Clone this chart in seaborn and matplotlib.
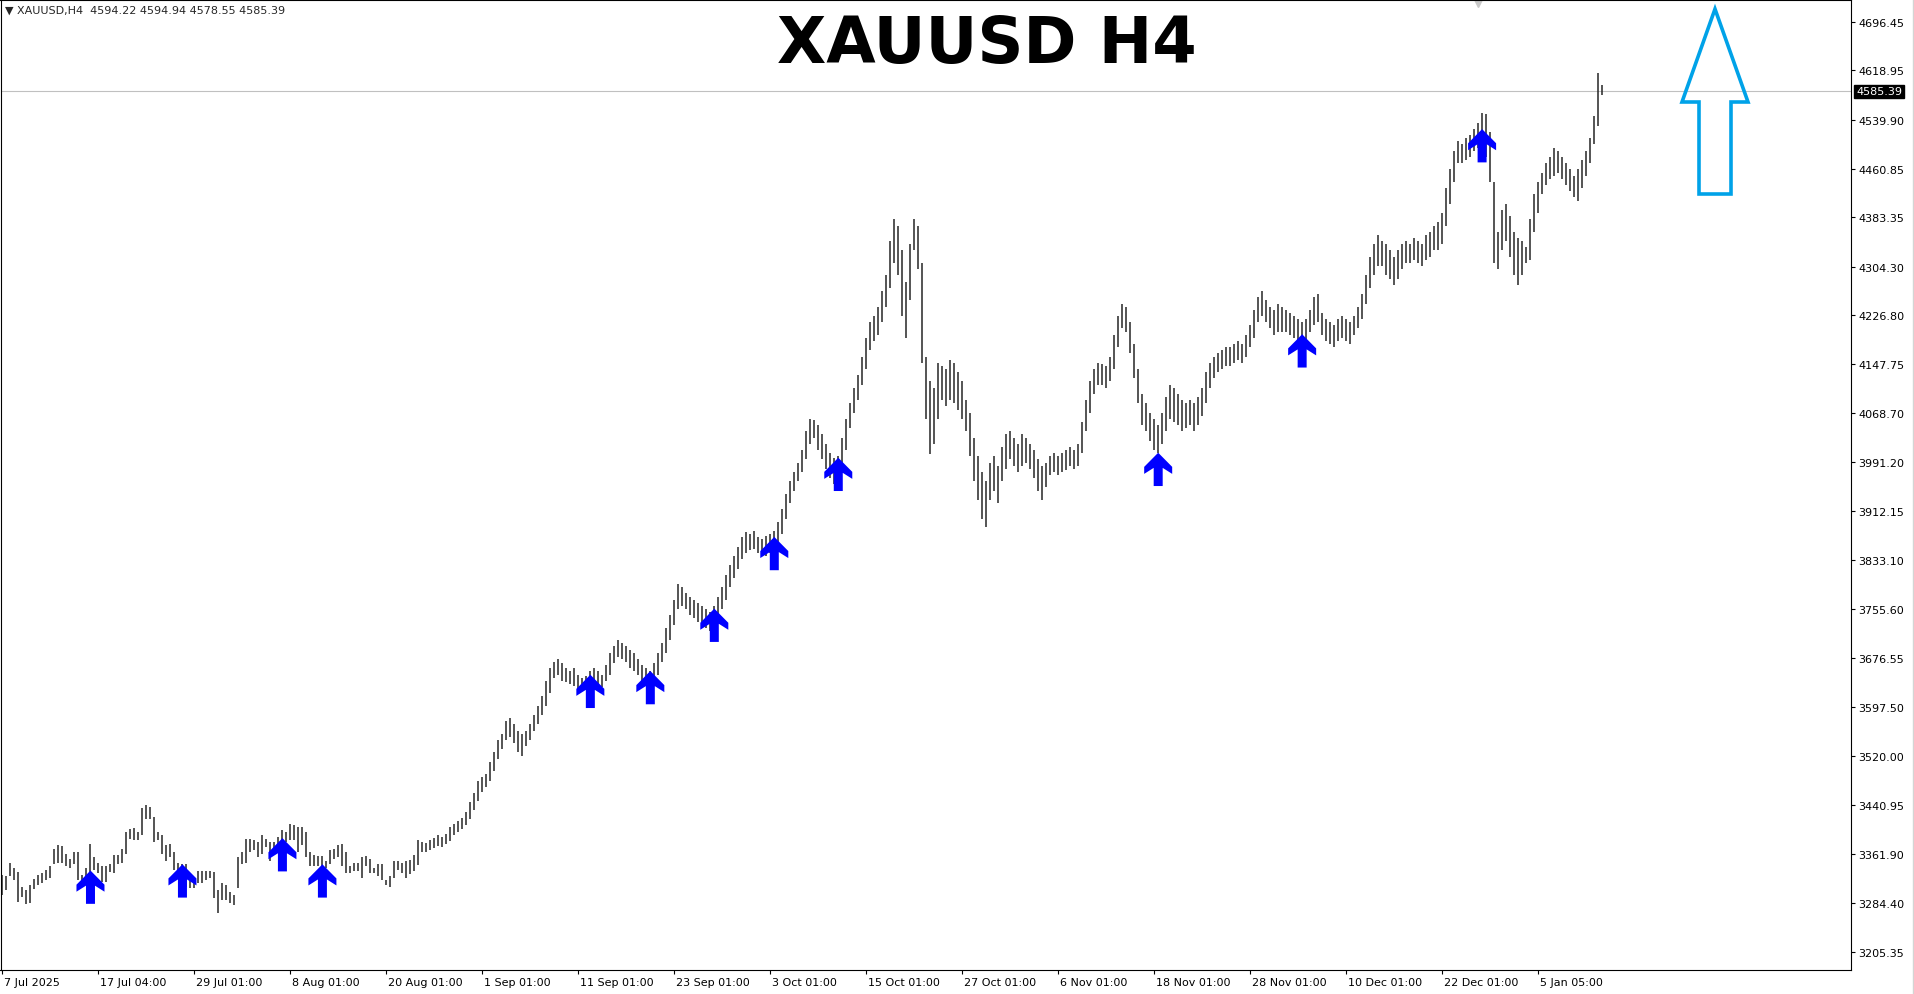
"""
XAUUSD H4 bar chart with buy-signal arrows, styled like an MT4 screenshot.
Bars are stored as 8-hour high/low pairs read off the reference picture.
"""
import matplotlib

matplotlib.use("Agg")
import matplotlib.pyplot as plt
import matplotlib.transforms as mtransforms
from matplotlib.lines import Line2D
from matplotlib.patches import Polygon
from matplotlib.path import Path
import numpy as np
import pandas as pd
import seaborn as sns

# ---- Data ------------------------------------------------------------------ #
symbol = "XAUUSD"
timeframe = "H4"
last_ohlc = [4594.22, 4594.94, 4578.55, 4585.39]

bar_high = [
    3328, 3327, 3347, 3340, 3333, 3309, 3304, 3313, 3322, 3329,
    3331, 3336, 3343, 3370, 3376, 3375, 3362, 3354, 3365, 3366,
    3329, 3340, 3378, 3357, 3348, 3343, 3343, 3346, 3360, 3360,
    3370, 3397, 3403, 3404,
    3397, 3436, 3441, 3438, 3422, 3397, 3392, 3376, 3378, 3365,
    3348, 3346, 3346, 3332, 3324, 3335, 3335, 3335, 3335, 3333,
    3305, 3316, 3313, 3302, 3297, 3357, 3365, 3387, 3387, 3384,
    3381, 3392, 3387, 3381,
    3381, 3389, 3400, 3397, 3411, 3408, 3406, 3406, 3397, 3365,
    3360, 3359, 3359, 3351, 3368, 3370, 3376, 3378, 3365, 3343,
    3348, 3348, 3357, 3359, 3354, 3340, 3346, 3346, 3321, 3327,
    3351, 3351, 3348, 3351,
    3352, 3360, 3385, 3382, 3380, 3385, 3388, 3392, 3390, 3395,
    3405, 3410, 3415, 3420, 3430, 3445, 3460, 3480, 3485, 3490,
    3510, 3525, 3545, 3555, 3575, 3580, 3570, 3560, 3555, 3560,
    3570, 3585, 3600, 3615, 3640, 3660, 3670, 3675, 3668, 3660,
    3655, 3660, 3650, 3645, 3648, 3655, 3660, 3655, 3650, 3665,
    3685, 3695, 3705, 3700, 3695, 3690, 3685, 3675, 3665, 3660,
    3655, 3668, 3685, 3700, 3725, 3745, 3770, 3795, 3790, 3780,
    3775, 3770, 3765, 3760, 3755, 3750, 3760, 3775, 3790, 3810,
    3825, 3840, 3855, 3870, 3878, 3875, 3880, 3870, 3868, 3872,
    3875, 3880, 3895, 3915, 3940, 3960, 3975, 3990, 4010, 4040,
    4060, 4058, 4050, 4035, 4020, 4005, 3998, 4000, 4030, 4060,
    4085, 4110, 4130, 4160, 4190, 4215, 4225, 4240, 4265, 4290,
    4345, 4381, 4370, 4330, 4280, 4340, 4381, 4370, 4310, 4160,
    4120, 4110, 4150, 4145, 4140, 4155, 4150, 4135, 4120, 4090,
    4070, 4030, 4000, 3975, 3960, 3990, 4000, 3985, 4015, 4035,
    4040, 4030, 4020, 4035, 4030, 4020, 4010, 3995, 3985, 3990,
    4000, 4005, 4000, 4005, 4010, 4015, 4010, 4020, 4055, 4090,
    4120, 4140, 4150, 4148, 4145, 4160, 4195, 4225, 4245, 4240,
    4215, 4180, 4140, 4100, 4085, 4070, 4060, 4050, 4070, 4095,
    4115, 4110, 4100, 4090, 4085, 4090, 4085, 4095, 4110, 4135,
    4150, 4160, 4165, 4170, 4175, 4175, 4180, 4185, 4180, 4195,
    4210, 4235, 4255, 4265, 4250, 4240, 4235, 4245, 4240, 4235,
    4230, 4225, 4220, 4215, 4220, 4235, 4255, 4260, 4230, 4220,
    4215, 4210, 4220, 4225, 4220, 4215, 4225, 4240, 4260, 4290,
    4320, 4340, 4355, 4345, 4340, 4330, 4320, 4330, 4340, 4345,
    4340, 4350, 4345, 4340, 4355, 4360, 4370, 4375, 4390, 4430,
    4460, 4490, 4505, 4500, 4510, 4515, 4525, 4535, 4550, 4549,
    4520, 4440, 4360, 4395, 4405, 4385, 4360, 4350, 4345, 4335,
    4380, 4420, 4440, 4455, 4470, 4480, 4495, 4490, 4480, 4470,
    4460, 4450, 4460, 4475, 4490, 4510, 4545, 4615, 4595,
]
bar_low = [
    3297, 3305, 3327, 3321, 3286, 3294, 3282, 3283, 3306, 3313,
    3316, 3321, 3324, 3346, 3348, 3348, 3343, 3340, 3346, 3321,
    3318, 3321, 3333, 3337, 3332, 3318, 3317, 3333, 3332, 3346,
    3348, 3362, 3387, 3385,
    3384, 3392, 3419, 3419, 3381, 3384, 3362, 3351, 3357, 3337,
    3335, 3321, 3310, 3308, 3308, 3316, 3316, 3321, 3324, 3291,
    3267, 3288, 3288, 3283, 3280, 3308, 3346, 3348, 3365, 3368,
    3357, 3362, 3373, 3351,
    3362, 3368, 3376, 3381, 3384, 3384, 3365, 3376, 3357, 3343,
    3343, 3343, 3343, 3340, 3346, 3354, 3357, 3343, 3332, 3332,
    3335, 3335, 3324, 3343, 3332, 3332, 3327, 3321, 3313, 3310,
    3324, 3337, 3332, 3324,
    3330, 3335, 3345, 3365, 3365, 3368, 3372, 3375, 3374, 3378,
    3383, 3392, 3398, 3402, 3408, 3418, 3432, 3448, 3462, 3470,
    3480, 3495, 3515, 3530, 3545, 3550, 3540, 3525, 3520, 3535,
    3545, 3560, 3570, 3585, 3600, 3620, 3645, 3650, 3640, 3638,
    3635, 3632, 3625, 3625, 3630, 3630, 3638, 3630, 3630, 3640,
    3650, 3668, 3678, 3675, 3670, 3660, 3655, 3650, 3640, 3635,
    3632, 3640, 3650, 3670, 3685, 3705, 3730, 3755, 3760, 3755,
    3745, 3740, 3735, 3730, 3725, 3720, 3728, 3740, 3755, 3770,
    3790, 3805, 3820, 3835, 3845, 3850, 3852, 3845, 3842, 3840,
    3845, 3848, 3860, 3875, 3900, 3925, 3945, 3960, 3975, 3995,
    4020, 4030, 4010, 3995, 3980, 3965, 3955, 3960, 3975, 4010,
    4045, 4070, 4090, 4115, 4140, 4170, 4185, 4195, 4215, 4240,
    4270, 4310, 4290, 4225, 4190, 4250, 4330, 4300, 4150, 4060,
    4004, 4020, 4060, 4090, 4080, 4090, 4085, 4075, 4060, 4040,
    4000, 3960, 3930, 3900, 3886, 3930, 3945, 3925, 3960, 3980,
    3995, 3985, 3975, 3985, 3990, 3980, 3965, 3945, 3930, 3950,
    3970, 3975, 3970, 3975, 3978, 3985, 3980, 3985, 4005, 4040,
    4070, 4100, 4115, 4115, 4110, 4120, 4140, 4175, 4205, 4200,
    4165, 4125, 4085, 4050, 4040, 4025, 4010, 4005, 4020, 4040,
    4060, 4055, 4050, 4040, 4045, 4050, 4040, 4050, 4065, 4085,
    4110, 4125, 4135, 4140, 4145, 4145, 4150, 4155, 4150, 4160,
    4175, 4190, 4215, 4225, 4215, 4205, 4195, 4200, 4200, 4200,
    4195, 4190, 4185, 4180, 4185, 4200, 4210, 4215, 4195, 4185,
    4180, 4175, 4185, 4190, 4185, 4180, 4195, 4205, 4220, 4245,
    4270, 4290, 4305, 4305, 4290, 4285, 4275, 4285, 4300, 4310,
    4310, 4315, 4310, 4305, 4315, 4320, 4330, 4330, 4340, 4370,
    4405, 4440, 4470, 4470, 4475, 4480, 4490, 4495, 4500, 4480,
    4440, 4310, 4300, 4330, 4345, 4320, 4290, 4275, 4290, 4310,
    4315, 4360, 4390, 4420, 4435, 4445, 4450, 4455, 4445, 4435,
    4425, 4415, 4410, 4430, 4450, 4470, 4500, 4530, 4579,
]

# buy signals: bar position and price level of the arrow centre
signal_bars = [22, 45, 70, 80, 147, 162, 178, 193, 209, 289, 325, 370]
signal_prices = [3309, 3319, 3361, 3319, 3623, 3629, 3729, 3844, 3971,
                 3979, 4169, 4498]

# time axis labels and the bar position they sit at
date_labels = [
    "7 Jul 2025", "17 Jul 04:00", "29 Jul 01:00", "8 Aug 01:00",
    "20 Aug 01:00", "1 Sep 01:00", "11 Sep 01:00", "23 Sep 01:00",
    "3 Oct 01:00", "15 Oct 01:00", "27 Oct 01:00", "6 Nov 01:00",
    "18 Nov 01:00", "28 Nov 01:00", "10 Dec 01:00", "22 Dec 01:00",
    "5 Jan 05:00",
]
date_bars = [0, 24, 48, 72, 96, 120, 144, 168, 192, 216, 240, 264,
             288, 312, 336, 360, 384]

price_ticks = [
    4696.45, 4618.95, 4539.90, 4460.85, 4383.35, 4304.30, 4226.80,
    4147.75, 4068.70, 3991.20, 3912.15, 3833.10, 3755.60, 3676.55,
    3597.50, 3520.00, 3440.95, 3361.90, 3284.40, 3205.35,
]

# ---- Style ----------------------------------------------------------------- #
sns.set_style("white")
plt.rcParams["font.family"] = ["DejaVu Sans"]

W, H = 1915, 995
fig = plt.figure(figsize=(W / 100, H / 100), dpi=100)
fig.patch.set_facecolor("white")
ax = fig.add_axes([0.5 / W, (H - 971) / H, 1850.5 / W, 970.5 / H])
ax.set_facecolor("white")

bars = pd.DataFrame({"pos": np.arange(len(bar_high)), "high": bar_high, "low": bar_low})
ax.vlines(bars["pos"], bars["low"], bars["high"], colors="#262626",
          linewidth=1.1, zorder=2)

# last price line
ax.axhline(last_ohlc[3], color="#C0C0C0", linewidth=0.8, zorder=1)

# signal arrows (thick up-arrow glyph)
arrow_path = Path(
    [(0, 16.65), (14.0, 2.5), (14.0, -4.5), (4.5, 1.5), (4.5, -16.65),
     (-4.5, -16.65), (-4.5, 1.5), (-14.0, -4.5), (-14.0, 2.5), (0, 16.65)],
    closed=True,
)
signals = pd.DataFrame({"bar": signal_bars, "price": signal_prices})
sns.scatterplot(data=signals, x="bar", y="price", marker=arrow_path, s=575,
                color="#0000FF", edgecolor="none", linewidth=0, legend=False,
                ax=ax, zorder=4)

ax.set_xlim(-0.5, 462.25)
ax.set_ylim(3176.2, 4732.5)
ax.set_xlabel("")
ax.set_ylabel("")

# right price scale
ax.yaxis.tick_right()
ax.set_yticks(price_ticks, [f"{p:.2f}" for p in price_ticks])
ax.tick_params(axis="y", right=True, left=False, direction="out", length=3,
               width=0.8, pad=2, labelsize=8, colors="black")

# bottom time scale, labels start just right of their tick
ax.set_xticks(date_bars, date_labels)
ax.tick_params(axis="x", bottom=True, direction="out", length=3, width=0.8,
               pad=2, labelsize=8, colors="black")
shift = mtransforms.ScaledTranslation(2 / 100, 0, fig.dpi_scale_trans)
for lbl in ax.get_xticklabels():
    lbl.set_horizontalalignment("left")
    lbl.set_transform(lbl.get_transform() + shift)

for sp in ax.spines.values():
    sp.set_visible(True)
    sp.set_color("black")
    sp.set_linewidth(0.8)

# current price tag on the scale
tag_tr = mtransforms.blended_transform_factory(ax.transAxes, ax.transData)
ax.text(1856 / 1851, last_ohlc[3], f"{last_ohlc[3]:.2f}", transform=tag_tr,
        fontsize=8, color="white", va="center", ha="left", zorder=6,
        bbox=dict(boxstyle="square,pad=0.15", fc="black", ec="black"))

# chart shift marker at the top
ax.plot([1478 / 1851], [1 - 4 / 971], marker="v", markersize=6,
        color="#C8C8C8", transform=ax.transAxes, clip_on=False)

# ---- Header and annotations ----------------------------------------------- #
header = f"\u25BC {symbol},{timeframe}  " + " ".join(f"{v:.2f}" for v in last_ohlc)
fig.text(5 / W, 1 - 11 / H, header, fontsize=8, va="center", ha="left")

fig.text(986.5 / W, 1 - 63.5 / H, f"{symbol} {timeframe}", fontsize=46,
         fontweight="bold", ha="center", va="baseline", color="black")

big_arrow_px = [(1715, 10), (1748, 103), (1731, 103), (1731, 195),
                (1699, 195), (1699, 103), (1682, 103)]
big_arrow = Polygon([(x / W, 1 - y / H) for x, y in big_arrow_px], closed=True,
                    fill=False, edgecolor="#00A2E8", linewidth=2.6,
                    joinstyle="miter", transform=fig.transFigure, zorder=7)
fig.add_artist(big_arrow)

fig.add_artist(Line2D([1913.5 / W, 1913.5 / W], [0, 1], color="#D4D4D4",
                      linewidth=1, transform=fig.transFigure))

fig.savefig("out.png", dpi=100, facecolor="white")
plt.close(fig)
